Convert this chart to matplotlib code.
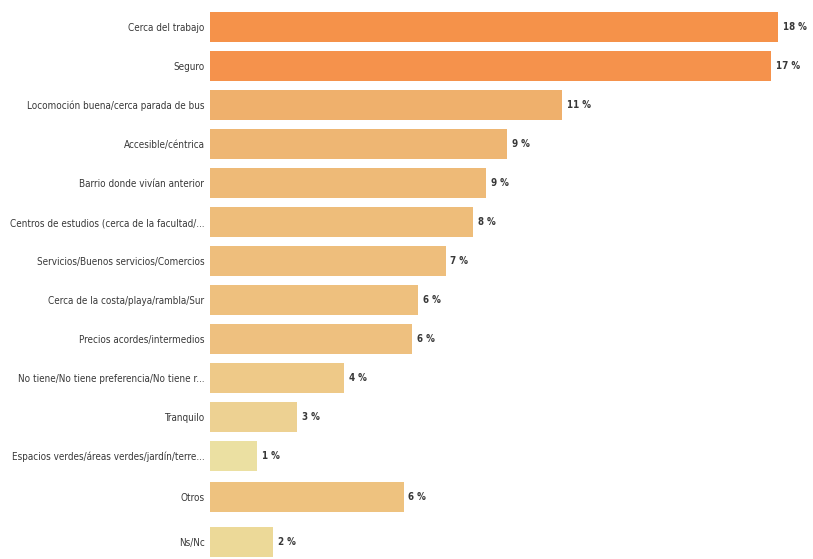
import matplotlib
matplotlib.use("Agg")
import matplotlib.pyplot as plt
from matplotlib import font_manager as fm
import numpy as np

categories = [
    "Cerca del trabajo",
    "Seguro",
    "Locomoción buena/cerca parada de bus",
    "Accesible/céntrica",
    "Barrio donde vivían anterior",
    "Centros de estudios (cerca de la facultad/...",
    "Servicios/Buenos servicios/Comercios",
    "Cerca de la costa/playa/rambla/Sur",
    "Precios acordes/intermedios",
    "No tiene/No tiene preferencia/No tiene r...",
    "Tranquilo",
    "Espacios verdes/áreas verdes/jardín/terre...",
    "Otros",
    "Ns/Nc",
]
values = [17.6, 17.4, 10.9, 9.2, 8.55, 8.15, 7.3, 6.45, 6.25, 4.15, 2.7, 1.45, 6.0, 1.95]
value_labels = ["18 %", "17 %", "11 %", "9 %", "9 %", "8 %", "7 %", "6 %", "6 %",
                "4 %", "3 %", "1 %", "6 %", "2 %"]
colors = ["#F5924A", "#F5924C", "#EFB06C", "#EEB673", "#EEBA77", "#EEBD7A", "#EEBE7C",
          "#EEC07E", "#EEC07F", "#EEC988", "#EDD192", "#EBE0A2", "#EEC27F", "#ECD998"]

path = fm.findfont(fm.FontProperties(family="DejaVu Sans", stretch="condensed"))
condensed = "condensed" in path.lower()

fig = plt.figure(figsize=(8.13, 5.59), dpi=100)
ax = fig.add_axes([210 / 813, 0, 603 / 813, 1])

y = np.arange(len(categories), dtype=float)
y[12] += 0.05
y[13] += 0.2

ax.barh(y, values, height=0.77, color=colors)
ax.set_xlim(0, 603 / 32.27)
ax.set_ylim(13.64, -0.692)

if condensed:
    lab_kw = dict(family="DejaVu Sans", stretch="condensed", fontsize=8.6)
    val_kw = dict(family="DejaVu Sans", stretch="condensed", fontsize=7)
else:
    lab_kw = dict(family="Liberation Sans", fontsize=8.2)
    val_kw = dict(family="Liberation Sans", fontsize=7)

ax.set_yticks(y)
ax.set_yticklabels(categories, color="#383838", **lab_kw)
ax.tick_params(axis="y", length=0, pad=4)
ax.set_xticks([])
for s in ax.spines.values():
    s.set_visible(False)

for yi, v, lab in zip(y, values, value_labels):
    ax.text(v + 0.15, yi, lab, va="center", ha="left",
            fontweight="bold", color="#383838", **val_kw)

# shrink labels to fit the left margin if needed
fig.canvas.draw()
r = fig.canvas.get_renderer()
maxw = max(t.get_window_extent(r).width for t in ax.get_yticklabels())
avail = 210 - 4 - 13
if maxw > avail:
    f = lab_kw["fontsize"] * avail / maxw
    for t in ax.get_yticklabels():
        t.set_fontsize(f)

fig.savefig("out.png", dpi=100)
